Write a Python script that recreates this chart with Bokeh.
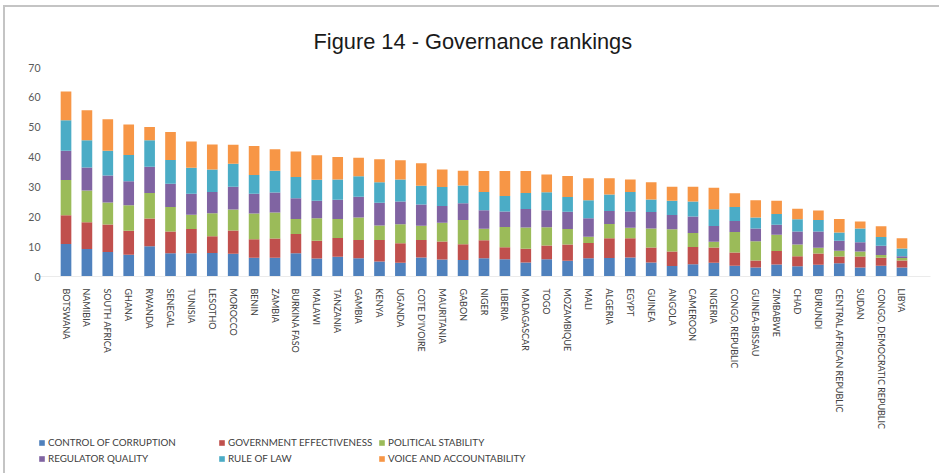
from bokeh.plotting import figure
from bokeh.layouts import column
from bokeh.models import FactorRange, Range1d, Legend, LegendItem, ColumnDataSource
from bokeh.embed import file_html
from bokeh.resources import INLINE

countries = ["BOTSWANA", "NAMIBIA", "SOUTH AFRICA", "GHANA", "RWANDA", "SENEGAL", "TUNISIA",
             "LESOTHO", "MOROCCO", "BENIN", "ZAMBIA", "BURKINA FASO", "MALAWI", "TANZANIA",
             "GAMBIA", "KENYA", "UGANDA", "COTE D'IVOIRE", "MAURITANIA", "GABON", "NIGER",
             "LIBERIA", "MADAGASCAR", "TOGO", "MOZAMBIQUE", "MALI", "ALGERIA", "EGYPT", "GUINEA",
             "ANGOLA", "CAMEROON", "NIGERIA", "CONGO, REPUBLIC", "GUINEA-BISSAU", "ZIMBABWE",
             "CHAD", "BURUNDI", "CENTRAL AFRICAN REPUBLIC", "SUDAN", "CONGO, DEMOCRATIC REPUBLIC",
             "LIBYA"]

control_of_corruption = [10.9, 9.2, 8.2, 7.3, 10.1, 7.8, 7.8, 7.9, 7.6, 6.3, 6.3, 7.8, 6.0, 6.6,
                         6.1, 5.0, 4.6, 6.4, 5.7, 5.5, 6.1, 5.8, 4.7, 5.8, 5.3, 6.1, 6.2, 6.4, 4.7,
                         3.5, 4.1, 4.6, 3.6, 3.0, 4.0, 3.4, 3.9, 4.4, 3.0, 3.6, 3.0]
government_effectiveness = [9.6, 9.0, 9.2, 8.0, 9.3, 7.3, 8.1, 5.6, 7.8, 6.2, 6.4, 6.4, 6.0, 6.3,
                            6.1, 7.2, 6.5, 5.8, 6.0, 5.3, 6.0, 4.0, 4.6, 4.6, 5.4, 5.1, 6.6, 6.4,
                            5.0, 4.9, 5.8, 5.1, 4.4, 2.4, 4.5, 3.4, 3.8, 2.3, 3.7, 2.7, 2.4]
political_stability = [11.8, 10.6, 7.4, 8.6, 8.6, 8.2, 4.8, 7.7, 7.0, 8.6, 8.7, 5.1, 7.5, 6.4,
                       7.6, 4.9, 6.4, 4.8, 6.3, 8.1, 3.9, 6.8, 7.1, 6.1, 5.2, 2.1, 4.8, 3.5, 6.4,
                       7.4, 4.7, 1.9, 6.9, 6.4, 5.5, 3.9, 1.9, 1.9, 1.7, 0.9, 0.8]
regulator_quality = [9.8, 7.7, 9.0, 8.0, 8.8, 7.8, 7.0, 7.1, 7.7, 6.6, 6.7, 6.9, 5.9, 6.4, 6.9,
                     7.6, 7.6, 7.1, 5.6, 5.6, 6.2, 5.2, 6.2, 5.7, 5.8, 6.2, 4.3, 5.5, 5.5, 4.8,
                     5.5, 5.3, 3.7, 4.3, 3.3, 4.4, 5.5, 3.4, 3.1, 3.1, 0.6]
rule_of_law = [10.2, 9.1, 8.3, 8.8, 8.8, 7.9, 8.7, 7.5, 7.7, 6.3, 7.3, 7.1, 7.0, 6.8, 6.9, 6.9,
               7.4, 6.3, 6.4, 6.0, 6.1, 5.2, 5.4, 6.0, 4.9, 6.0, 5.6, 6.5, 4.2, 4.8, 5.0, 5.6,
               4.7, 3.7, 3.6, 4.1, 3.8, 2.7, 4.6, 2.9, 2.6]
voice_and_accountability = [9.7, 10.1, 10.6, 10.2, 4.5, 9.4, 8.8, 8.4, 6.3, 9.7, 7.2, 8.6, 8.2,
                            7.5, 6.2, 7.7, 6.4, 7.5, 5.8, 4.9, 7.0, 8.3, 7.3, 6.0, 7.1, 7.4, 5.4,
                            4.2, 5.8, 4.7, 5.0, 7.2, 4.6, 5.7, 4.5, 3.5, 3.2, 4.6, 2.3, 3.6, 3.4]

series_labels = ["CONTROL OF CORRUPTION", "GOVERNMENT EFFECTIVENESS", "POLITICAL STABILITY",
                 "REGULATOR QUALITY", "RULE OF LAW", "VOICE AND ACCOUNTABILITY"]
series_keys = ["cc", "ge", "ps", "rq", "rl", "va"]
colors = ["#4F81BD", "#C0504D", "#9BBB59", "#8064A2", "#4BACC6", "#F79646"]

source = ColumnDataSource(dict(country=countries, cc=control_of_corruption,
                               ge=government_effectiveness, ps=political_stability,
                               rq=regulator_quality, rl=rule_of_law,
                               va=voice_and_accountability))

FONT = "Lato"

# ---- main chart ----
p = figure(x_range=FactorRange(*countries, range_padding=0.864, range_padding_units="absolute"),
           y_range=Range1d(0, 70),
           width=934, height=425, output_backend="svg", toolbar_location=None,
           min_border_left=32, min_border_right=9, min_border_top=60, min_border_bottom=154)

renderers = p.vbar_stack(series_keys, x="country", width=0.51, color=colors, source=source,
                         line_width=0)

p.title.text = "Figure 14 - Governance rankings"
p.title.align = "left"
p.title.offset = 276
p.title.text_font = "Liberation Sans"
p.title.text_font_size = "21.8px"
p.title.text_font_style = "normal"
p.title.text_color = "#1a1a1a"
p.title.standoff = 27

p.outline_line_color = None
p.xgrid.grid_line_color = None
p.ygrid.grid_line_color = None

p.yaxis.axis_line_color = None
p.yaxis.major_tick_line_color = None
p.yaxis.minor_tick_line_color = None
p.yaxis.major_label_standoff = -9
p.yaxis.major_label_text_font = FONT
p.yaxis.major_label_text_font_size = "10.5px"
p.yaxis.major_label_text_color = "#595959"
p.yaxis.ticker = [0, 10, 20, 30, 40, 50, 60, 70]

p.xaxis.axis_line_color = "#ebebeb"
p.xaxis.major_tick_line_color = None
p.xaxis.minor_tick_line_color = None
p.xaxis.major_label_orientation = "vertical"
p.xaxis.major_label_standoff = 6
p.xaxis.major_label_text_font = FONT
p.xaxis.major_label_text_font_size = "9px"
p.xaxis.major_label_text_color = "#404040"

# ---- legend strip (same series, hidden bars; only the legend shows) ----
q = figure(x_range=FactorRange(*countries), y_range=Range1d(1000, 1001),
           width=934, height=41, output_backend="svg", toolbar_location=None,
           min_border=0, x_axis_type=None, y_axis_type=None)
q.outline_line_color = None
q.xgrid.grid_line_color = None
q.ygrid.grid_line_color = None
legend_renderers = q.vbar_stack(series_keys, x="country", width=0.51, color=colors, source=source,
                                line_width=0)


def make_legend(idx, loc, orientation, ncols):
    lg = Legend(items=[LegendItem(label=series_labels[i], renderers=[legend_renderers[i]]) for i in idx],
                orientation=orientation, ncols=ncols, location=loc)
    lg.label_text_font = FONT
    lg.label_text_font_size = "9.8px"
    lg.label_text_color = "#404040"
    lg.glyph_width = 7
    lg.glyph_height = 7
    lg.label_height = 12
    lg.label_standoff = 3
    lg.spacing = 4
    lg.padding = 2
    lg.margin = 0
    lg.border_line_color = None
    lg.background_fill_alpha = 0
    return lg


leg_a = make_legend([0, 3], (1, 9), "vertical", 1)
leg_b = make_legend([1, 2, 4, 5], (181, 9), "horizontal", 2)
leg_b.label_width = 146
q.add_layout(leg_a, "center")
q.add_layout(leg_b, "center")

layout = column(p, q, spacing=0,
                styles={"margin-left": "3px", "margin-top": "5px",
                        "border-left": "2px solid #c4c4c4", "border-top": "2px solid #c4c4c4"})

open("out.html", "w").write(file_html(layout, INLINE))
